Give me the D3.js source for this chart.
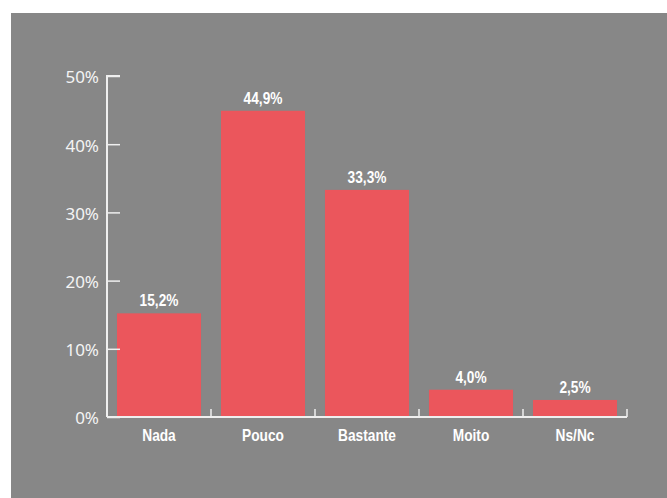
<!DOCTYPE html>
<html><head><meta charset="utf-8">
<script src="https://cdn.jsdelivr.net/npm/d3@7"></script>
<style>
html,body{margin:0;padding:0;background:#fff;}
svg{display:block;}
</style></head>
<body>
<script>
const categories = ["Nada","Pouco","Bastante","Moito","Ns/Nc"];
const values = [15.2,44.9,33.3,4.0,2.5];
const valueLabels = ["15,2%","44,9%","33,3%","4,0%","2,5%"];
const yTicks = [0,10,20,30,40,50];
const yTickLabels = ["0%","10%","20%","30%","40%","50%"];

const W=667,H=498;
const svg=d3.select("body").append("svg").attr("width",W).attr("height",H);
svg.append("rect").attr("x",11).attr("y",13).attr("width",W-11).attr("height",H-13).attr("fill","#878787");

const x=d3.scaleBand().domain(categories).range([107,627]).paddingInner(0.192).paddingOuter(0.096);
const y=d3.scaleLinear().domain([0,50]).range([417,76]);

const condensed='"Liberation Sans","Arial",sans-serif';
const axisColor="#efefef";
const sx=0.83;

// bars
svg.selectAll("rect.bar").data(values).join("rect").attr("class","bar")
 .attr("x",(d,i)=>x(categories[i])).attr("width",x.bandwidth())
 .attr("y",d=>y(d)).attr("height",d=>y(0)-y(d)).attr("fill","#EB565C");

// value labels (horizontally condensed)
svg.selectAll("g.val").data(values).join("g").attr("class","val")
 .attr("transform",(d,i)=>`translate(${x(categories[i])+x.bandwidth()/2},${y(d)-7}) scale(${sx},1)`)
 .append("text").attr("text-anchor","middle").attr("fill","#fff")
 .style("font-family",condensed).style("font-weight","bold").style("font-size","16.5px")
 .text((d,i)=>valueLabels[i]);

// y axis
const yAxis=d3.axisLeft(y).tickValues(yTicks).tickSize(-13).tickPadding(8).tickFormat((d,i)=>yTickLabels[i]);
const gy=svg.append("g").attr("transform","translate(107,0)").call(yAxis);
gy.select(".domain").attr("stroke",axisColor).attr("stroke-width",2).attr("d","M13,76H0V417");
gy.selectAll(".tick line").attr("stroke",axisColor).attr("stroke-width",1.5);
gy.selectAll(".tick text").attr("fill","#f4f4f4").attr("dy","0.4em").style("font-family",'"Noto Sans","Open Sans",sans-serif').style("font-size","17px").style("font-weight","normal");

// x axis
const gx=svg.append("g").attr("transform","translate(0,417)");
gx.append("line").attr("x1",107).attr("x2",627).attr("y1",0).attr("y2",0).attr("stroke",axisColor).attr("stroke-width",2);
const bounds=categories.map((c,i)=>x(c)+x.bandwidth()+x.step()*x.paddingInner()/2);
gx.selectAll("line.tk").data(bounds).join("line").attr("class","tk")
 .attr("x1",d=>d).attr("x2",d=>d).attr("y1",0).attr("y2",-8).attr("stroke",axisColor).attr("stroke-width",1.5);
gx.selectAll("g.lbl").data(categories).join("g").attr("class","lbl")
 .attr("transform",d=>`translate(${x(d)+x.bandwidth()/2},24) scale(${sx},1)`)
 .append("text").attr("text-anchor","middle").attr("fill","#fff")
 .style("font-family",condensed).style("font-weight","bold").style("font-size","16.5px").text(d=>d);
</script>
</body></html>
